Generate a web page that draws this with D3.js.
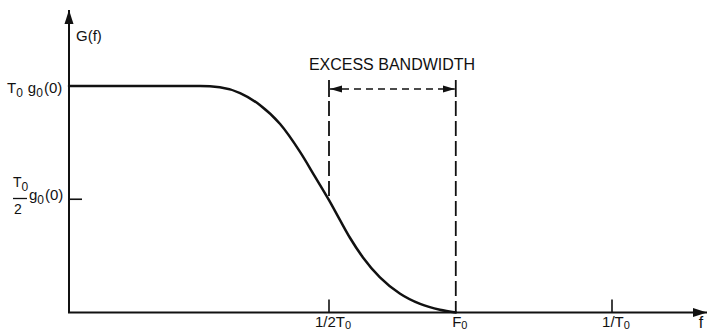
<!DOCTYPE html>
<html>
<head>
<meta charset="utf-8">
<script src="https://cdn.jsdelivr.net/npm/d3@7"></script>
<style>
  body { margin: 0; background: #fff; }
  text { font-family: 'Liberation Sans', Arial, sans-serif; fill: #111; }
</style>
</head>
<body>
<div id="chart"></div>
<script>
let width = 708,
  height = 333;

// frequency in units of 1/T0, G in units of T0*g0(0)
const freq = [0, 0.252, 0.29, 0.329, 0.367, 0.406, 0.444, 0.473, 0.5, 0.519, 0.537, 0.56, 0.59, 0.625, 0.661, 0.696, 0.724];
const gain = [1, 1, 0.994, 0.969, 0.916, 0.832, 0.71, 0.6, 0.496, 0.41, 0.33, 0.243, 0.155, 0.084, 0.038, 0.012, 0];

const xTickValues = [0.5, 0.724, 1];
const xTickLabels = [['1/2T', '0'], ['F', '0'], ['1/T', '0']];
const F0 = 0.724;

const data = freq.map((f, i) => ({ f: f, g: gain[i] }));

const svg = d3
  .select('#chart')
  .append('svg')
  .attr('width', width)
  .attr('height', height);

// schematic axis: drawn positions of 1/2T0 and 1/T0 are not evenly spaced
let x = d3.scaleLinear().domain([0, 0.5, 1, 1.168]).range([69, 329, 612, 707]);
let y = d3.scaleLinear().domain([0, 1]).range([312.5, 86]);

const defs = svg.append('defs');
defs
  .append('marker')
  .attr('id', 'head')
  .attr('viewBox', '0 -5 14 10')
  .attr('refX', 14)
  .attr('refY', 0)
  .attr('markerUnits', 'userSpaceOnUse')
  .attr('markerWidth', 14)
  .attr('markerHeight', 10)
  .attr('orient', 'auto')
  .append('path')
  .attr('d', 'M0,-4.5L14,0L0,4.5Z')
  .attr('fill', '#111');

defs
  .append('marker')
  .attr('id', 'small')
  .attr('viewBox', '0 -4 12 8')
  .attr('refX', 12)
  .attr('refY', 0)
  .attr('markerUnits', 'userSpaceOnUse')
  .attr('markerWidth', 12)
  .attr('markerHeight', 8)
  .attr('orient', 'auto-start-reverse')
  .append('path')
  .attr('d', 'M0,-3.5L12,0L0,3.5Z')
  .attr('fill', '#111');

// axes
svg
  .append('line')
  .attr('x1', x(0))
  .attr('y1', y(0))
  .attr('x2', x(0))
  .attr('y2', 10)
  .attr('stroke', '#111')
  .attr('stroke-width', 2)
  .attr('marker-end', 'url(#head)');

svg
  .append('line')
  .attr('x1', x(0) - 1)
  .attr('y1', y(0))
  .attr('x2', x(1.168))
  .attr('y2', y(0))
  .attr('stroke', '#111')
  .attr('stroke-width', 2)
  .attr('marker-end', 'url(#head)');

// ticks on x axis (F0 is marked by the dashed line)
svg
  .append('g')
  .selectAll('line')
  .data([0.5, 1])
  .join('line')
  .attr('x1', (d) => x(d))
  .attr('x2', (d) => x(d))
  .attr('y1', y(0))
  .attr('y2', y(0) - 13)
  .attr('stroke', '#111')
  .attr('stroke-width', 1.6);

// tick at half level
svg
  .append('line')
  .attr('x1', x(0))
  .attr('x2', x(0) + 13)
  .attr('y1', y(0.5))
  .attr('y2', y(0.5))
  .attr('stroke', '#111')
  .attr('stroke-width', 1.6);

const xl = svg
  .append('g')
  .selectAll('text')
  .data(xTickValues)
  .join('text')
  .attr('x', (d) => x(d) + 4)
  .attr('y', 327)
  .attr('text-anchor', 'middle')
  .attr('font-size', 15);
xl.append('tspan').text((d, i) => xTickLabels[i][0]);
xl.append('tspan')
  .attr('dy', 2)
  .attr('font-size', 11)
  .text((d, i) => xTickLabels[i][1]);

svg
  .append('text')
  .attr('x', 701)
  .attr('y', 328)
  .attr('text-anchor', 'middle')
  .attr('font-size', 16)
  .text('f');

svg
  .append('text')
  .attr('x', 76)
  .attr('y', 41)
  .attr('font-size', 15)
  .text('G(f)');

// y labels
const topLabel = svg
  .append('text')
  .attr('x', 7)
  .attr('y', 93)
  .attr('font-size', 15);
topLabel.append('tspan').text('T');
topLabel.append('tspan').attr('dy', 4).attr('font-size', 12).text('0');
topLabel.append('tspan').attr('dy', -4).attr('dx', 5).text('g');
topLabel.append('tspan').attr('dy', 4).attr('font-size', 12).text('0');
topLabel.append('tspan').attr('dy', -4).attr('dx', 1).text('(0)');

svg
  .append('text')
  .attr('x', 13)
  .attr('y', 187)
  .attr('font-size', 14)
  .call((t) => {
    t.append('tspan').text('T');
    t.append('tspan').attr('dy', 4).attr('font-size', 12).text('0');
  });
svg
  .append('line')
  .attr('x1', 13)
  .attr('x2', 27)
  .attr('y1', 198.5)
  .attr('y2', 198.5)
  .attr('stroke', '#111')
  .attr('stroke-width', 1.3);
svg
  .append('text')
  .attr('x', 14)
  .attr('y', 214)
  .attr('font-size', 14)
  .text('2');
svg
  .append('text')
  .attr('x', 29)
  .attr('y', 200)
  .attr('font-size', 15)
  .call((t) => {
    t.append('tspan').text('g');
    t.append('tspan').attr('dy', 4).attr('font-size', 12).text('0');
    t.append('tspan').attr('dy', -4).attr('dx', 1).text('(0)');
  });

// curve
let line = d3
  .line()
  .curve(d3.curveMonotoneX)
  .x((d) => x(d.f))
  .y((d) => y(d.g));

svg
  .append('path')
  .datum(data)
  .attr('fill', 'none')
  .attr('stroke', '#111')
  .attr('stroke-width', 2.5)
  .attr('stroke-linejoin', 'round')
  .attr('stroke-linecap', 'round')
  .attr('d', line);

// excess bandwidth markers
const arrowY = 89;
[0.5, F0].forEach((f) => {
  svg
    .append('line')
    .attr('x1', x(f))
    .attr('x2', x(f))
    .attr('y1', arrowY - 9)
    .attr('y2', arrowY + 8)
    .attr('stroke', '#111')
    .attr('stroke-width', 1.8);
  svg
    .append('line')
    .attr('x1', x(f))
    .attr('x2', x(f))
    .attr('y1', arrowY + 12)
    .attr('y2', f === 0.5 ? y(0.5) - 2 : y(0))
    .attr('stroke', '#111')
    .attr('stroke-width', 1.8)
    .attr('stroke-dasharray', '15,5');
});

svg
  .append('line')
  .attr('x1', x(0.5) + 1)
  .attr('x2', x(F0) - 1)
  .attr('y1', arrowY)
  .attr('y2', arrowY)
  .attr('stroke', '#111')
  .attr('stroke-width', 1.6)
  .attr('stroke-dasharray', '7,5')
  .attr('marker-start', 'url(#small)')
  .attr('marker-end', 'url(#small)');

svg
  .append('text')
  .attr('x', 392)
  .attr('y', 70)
  .attr('text-anchor', 'middle')
  .attr('font-size', 16)
  .text('EXCESS BANDWIDTH');
</script>
</body>
</html>
